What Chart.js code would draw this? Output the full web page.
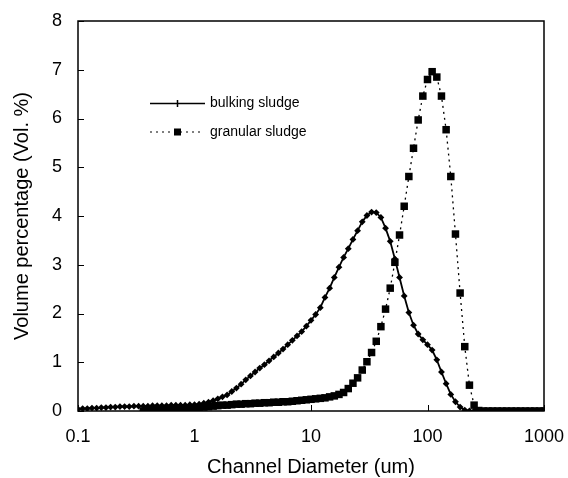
<!DOCTYPE html>
<html>
<head>
<meta charset="utf-8">
<script src="https://cdn.jsdelivr.net/npm/chart.js@4.4.1/dist/chart.umd.min.js"></script>
<style>
  html, body { margin: 0; padding: 0; background: #fff; }
  canvas { display: block; }
</style>
</head>
<body>
<canvas id="chart" width="568" height="478"></canvas>
<script>
// channel diameters (um), same channels for both samples
const diameters = [
  0.1, 0.1096, 0.1202, 0.1318, 0.1445, 0.1585, 0.1738, 0.1905, 0.2089, 0.2291,
  0.2512, 0.2754, 0.302, 0.3311, 0.3631, 0.3981, 0.4365, 0.4786, 0.5248, 0.5754,
  0.631, 0.6918, 0.7586, 0.8318, 0.912,
  1, 1.096, 1.202, 1.318, 1.445, 1.585, 1.738, 1.905, 2.089, 2.291,
  2.512, 2.754, 3.02, 3.311, 3.631, 3.981, 4.365, 4.786, 5.248, 5.754,
  6.31, 6.918, 7.586, 8.318, 9.12,
  10, 10.96, 12.02, 13.18, 14.45, 15.85, 17.38, 19.05, 20.89, 22.91,
  25.12, 27.54, 30.2, 33.11, 36.31, 39.81, 43.65, 47.86, 52.48, 57.54,
  63.1, 69.18, 75.86, 83.18, 91.2,
  100, 109.6, 120.2, 131.8, 144.5, 158.5, 173.8, 190.5, 208.9, 229.1,
  251.2, 275.4, 302, 331.1, 363.1, 398.1, 436.5, 478.6, 524.8, 575.4,
  631, 691.8, 758.6, 831.8, 912,
  1000
];

const bulkingSludge = [
  0.04, 0.05, 0.05, 0.06, 0.06, 0.07, 0.07, 0.08, 0.08, 0.09,
  0.09, 0.09, 0.10, 0.10, 0.10, 0.10, 0.11, 0.11, 0.11, 0.11,
  0.12, 0.12, 0.12, 0.12, 0.13,
  0.13, 0.14, 0.16, 0.18, 0.21, 0.25, 0.29, 0.33, 0.40, 0.47,
  0.55, 0.64, 0.72, 0.80, 0.88, 0.95, 1.03, 1.11, 1.19, 1.27,
  1.36, 1.45, 1.54, 1.63, 1.74,
  1.86, 1.98, 2.12, 2.33, 2.52, 2.74, 2.95, 3.15, 3.33, 3.52,
  3.70, 3.88, 4.01, 4.08, 4.07, 3.97, 3.75, 3.48, 3.12, 2.74,
  2.36, 2.02, 1.76, 1.58, 1.46,
  1.36, 1.25, 1.05, 0.80, 0.56, 0.34, 0.19, 0.08, 0.02, 0,
  0, 0, 0, 0, 0, 0, 0, 0, 0, 0,
  0, 0, 0, 0, 0,
  0
];

const granularSludge = [
  null, null, null, null, null, null, null, null, null, null,
  null, null, null, null, 0.00, 0.01, 0.01, 0.02, 0.02, 0.03,
  0.03, 0.04, 0.04, 0.05, 0.05,
  0.06, 0.07, 0.08, 0.09, 0.10, 0.11, 0.12, 0.12, 0.13, 0.14,
  0.14, 0.15, 0.15, 0.16, 0.16, 0.17, 0.17, 0.18, 0.18, 0.19,
  0.19, 0.20, 0.21, 0.22, 0.23,
  0.24, 0.25, 0.26, 0.27, 0.29, 0.31, 0.34, 0.38, 0.46, 0.57,
  0.68, 0.84, 1.01, 1.20, 1.43, 1.73, 2.09, 2.52, 3.05, 3.61,
  4.20, 4.81, 5.39, 5.97, 6.46,
  6.80, 6.96, 6.85, 6.46, 5.77, 4.81, 3.63, 2.42, 1.32, 0.53,
  0.12, 0.01, 0, 0, 0, 0, 0, 0, 0, 0,
  0, 0, 0, 0, 0,
  0
];

const xTickValues = [0.1, 1, 10, 100, 1000];
const yTickValues = [0, 1, 2, 3, 4, 5, 6, 7, 8];
const seriesNames = ['bulking sludge', 'granular sludge'];

const FONT = "'Liberation Sans', Arial, sans-serif";

function toPoints(values) {
  const pts = [];
  values.forEach((v, i) => {
    if (v !== null) pts.push({ x: diameters[i], y: v });
  });
  return pts;
}

// frame + inward tick marks, like the Excel original
const framePlugin = {
  id: 'frame',
  beforeDatasetsDraw(chart) {
    const { ctx, chartArea: a, scales } = chart;
    ctx.save();
    ctx.strokeStyle = '#000';
    ctx.lineWidth = 1;
    ctx.beginPath();
    xTickValues.forEach(v => {
      const px = Math.round(scales.x.getPixelForValue(v)) + 0.5;
      ctx.moveTo(px, a.bottom);
      ctx.lineTo(px, a.bottom - 6);
    });
    yTickValues.forEach(v => {
      const py = Math.round(scales.y.getPixelForValue(v)) + 0.5;
      ctx.moveTo(a.left, py);
      ctx.lineTo(a.left + 6, py);
    });
    ctx.stroke();
    ctx.lineWidth = 1.5;
    ctx.strokeRect(a.left, a.top, a.right - a.left, a.bottom - a.top);
    ctx.restore();
  }
};

const legendPlugin = {
  id: 'customLegend',
  afterDraw(chart) {
    const { ctx } = chart;
    ctx.save();
    ctx.strokeStyle = '#000';
    ctx.fillStyle = '#000';
    // bulking sludge
    ctx.lineWidth = 1.5;
    ctx.beginPath();
    ctx.moveTo(150, 103.5);
    ctx.lineTo(205, 103.5);
    ctx.moveTo(177.5, 100);
    ctx.lineTo(177.5, 107);
    ctx.stroke();
    // granular sludge
    ctx.lineWidth = 1.2;
    ctx.setLineDash([2, 4]);
    ctx.beginPath();
    ctx.moveTo(150, 132);
    ctx.lineTo(203, 132);
    ctx.stroke();
    ctx.setLineDash([]);
    ctx.fillRect(174, 128.5, 7, 7);
    ctx.font = '14px ' + FONT;
    ctx.textBaseline = 'middle';
    ctx.fillText(seriesNames[0], 210, 103);
    ctx.fillText(seriesNames[1], 210, 132);
    ctx.restore();
  }
};

new Chart(document.getElementById('chart'), {
  type: 'scatter',
  data: {
    datasets: [
      {
        label: seriesNames[0],
        data: toPoints(bulkingSludge),
        showLine: true,
        borderColor: '#000',
        backgroundColor: '#000',
        borderWidth: 1.8,
        pointStyle: 'rectRot',
        pointRadius: 3.4,
        pointBorderWidth: 0,
        tension: 0
      },
      {
        label: seriesNames[1],
        data: toPoints(granularSludge),
        showLine: true,
        borderColor: '#000',
        backgroundColor: '#000',
        borderWidth: 1.3,
        borderDash: [2, 4],
        pointStyle: 'rect',
        pointRadius: 5.3,
        pointBorderWidth: 0,
        tension: 0
      }
    ]
  },
  options: {
    responsive: false,
    animation: false,
    devicePixelRatio: 1,
    layout: { padding: { left: 0, right: 24, top: 21, bottom: 0 } },
    plugins: {
      legend: { display: false },
      tooltip: { enabled: false }
    },
    scales: {
      x: {
        type: 'logarithmic',
        min: 0.1,
        max: 1000,
        afterBuildTicks: scale => {
          scale.ticks = xTickValues.map(v => ({ value: v }));
        },
        afterFit: scale => {
          scale.height = 67;
          scale.paddingLeft = 0;
          scale.paddingRight = 0;
        },
        ticks: {
          color: '#000',
          font: { family: FONT, size: 18 },
          padding: 15,
          maxRotation: 0,
          autoSkip: false,
          callback: v => String(v)
        },
        grid: { drawOnChartArea: false, drawTicks: false },
        border: { display: false },
        title: {
          display: true,
          text: 'Channel Diameter (um)',
          color: '#000',
          font: { family: FONT, size: 20, lineHeight: 1.2 },
          padding: { top: 0, bottom: -1 }
        }
      },
      y: {
        min: 0,
        max: 8,
        afterBuildTicks: scale => {
          scale.ticks = yTickValues.map(v => ({ value: v }));
        },
        afterFit: scale => {
          scale.width = 78;
          scale.paddingTop = 0;
          scale.paddingBottom = 0;
        },
        ticks: {
          color: '#000',
          font: { family: FONT, size: 18 },
          padding: 16
        },
        grid: { drawOnChartArea: false, drawTicks: false },
        border: { display: false },
        title: {
          display: true,
          text: 'Volume percentage (Vol. %)',
          color: '#000',
          font: { family: FONT, size: 20, lineHeight: 1.2 },
          padding: { top: 10, bottom: 0 }
        }
      }
    }
  },
  plugins: [framePlugin, legendPlugin]
});
</script>
</body>
</html>
